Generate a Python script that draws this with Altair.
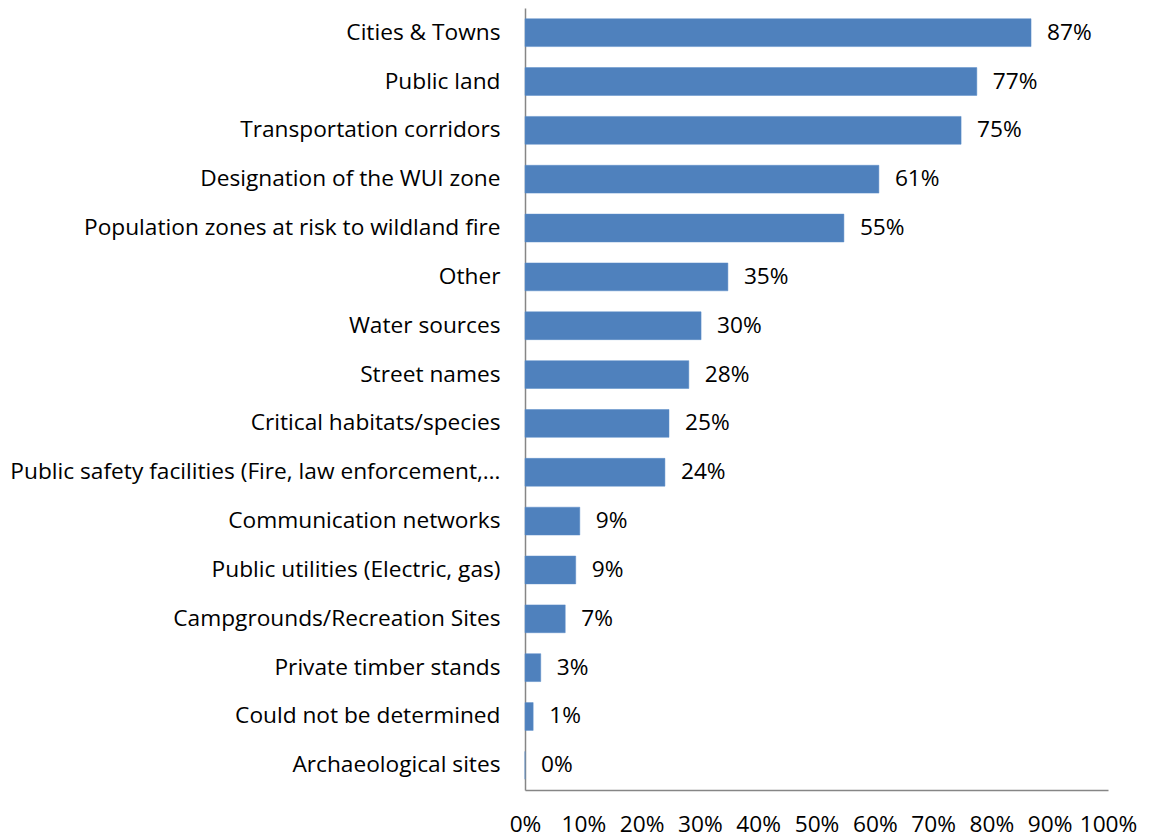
import altair as alt
import pandas as pd

categories = [
    "Cities & Towns",
    "Public land",
    "Transportation corridors",
    "Designation of the WUI zone",
    "Population zones at risk to wildland fire",
    "Other",
    "Water sources",
    "Street names",
    "Critical habitats/species",
    "Public safety facilities (Fire, law enforcement,…",
    "Communication networks",
    "Public utilities (Electric, gas)",
    "Campgrounds/Recreation Sites",
    "Private timber stands",
    "Could not be determined",
    "Archaeological sites",
]
values = [0.868, 0.775, 0.748, 0.607, 0.547, 0.348, 0.302, 0.281, 0.247, 0.240,
          0.094, 0.087, 0.069, 0.027, 0.014, 0.0]
labels = ["87%", "77%", "75%", "61%", "55%", "35%", "30%", "28%", "25%", "24%",
          "9%", "9%", "7%", "3%", "1%", "0%"]
ticks = [i / 10 for i in range(11)]

df = pd.DataFrame({"cat": categories, "val": values, "lab": labels})

FONT = "Open Sans"
FS = 22.7

y_enc = alt.Y(
    "cat:N",
    sort=categories,
    title=None,
    scale=alt.Scale(paddingInner=0.43, paddingOuter=0.22),
    axis=alt.Axis(
        ticks=False,
        grid=False,
        domainColor="#868686",
        domainWidth=1.5,
        labelFont=FONT,
        labelFontSize=FS,
        labelColor="#000000",
        labelPadding=25,
        labelLimit=700,
    ),
)
x_enc = alt.X(
    "val:Q",
    title=None,
    scale=alt.Scale(domain=[0, 1], nice=False),
    axis=alt.Axis(
        values=ticks,
        format=".0%",
        ticks=False,
        grid=False,
        domainColor="#868686",
        domainWidth=1.5,
        labelFont=FONT,
        labelFontSize=FS,
        labelColor="#000000",
        labelPadding=23,
        labelFlush=False,
        labelOverlap=False,
    ),
)

bars = alt.Chart(df).mark_bar(color="#4F81BD", stroke="#5B8CC8", strokeWidth=0.5).encode(
    x=x_enc, y=y_enc
)
text = alt.Chart(df).mark_text(
    align="left", baseline="middle", dx=16, font=FONT, fontSize=FS, color="#000000"
).encode(
    x="val:Q",
    y=alt.Y("cat:N", sort=categories),
    text="lab:N",
)

chart = (
    alt.layer(bars, text)
    .properties(
        width=583,
        height=782,
        background="#ffffff",
        autosize=alt.AutoSizeParams(type="none"),
        padding={"left": 517, "top": 0, "right": 34, "bottom": 45},
    )
    .configure_view(stroke="transparent", strokeWidth=0)
    .configure_axis(grid=False)
)

chart.save("out.html", embed_options={"renderer": "svg", "actions": False})
